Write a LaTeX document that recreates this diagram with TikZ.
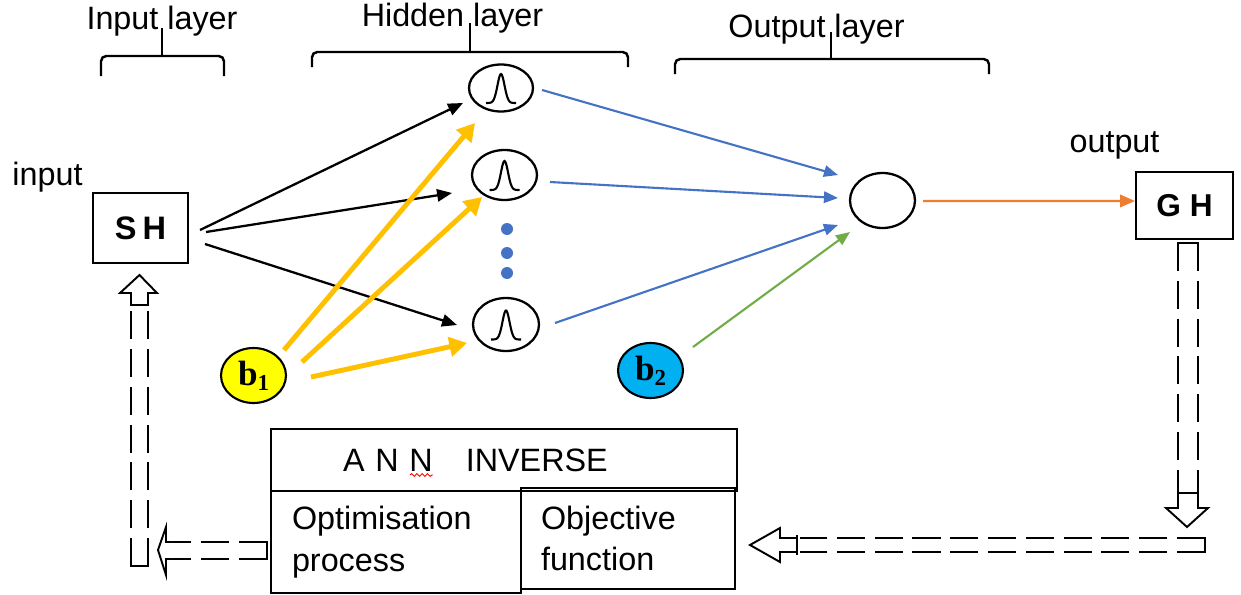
\documentclass[tikz,border=0pt]{standalone}
\usepackage{fontspec}
\setmainfont{Liberation Sans}
\newfontfamily\serifb{Liberation Serif}
\usetikzlibrary{arrows.meta,calc,decorations.pathmorphing,shapes.geometric}
\definecolor{amber}{RGB}{255,192,0}
\definecolor{nblue}{RGB}{68,114,196}
\definecolor{ngreen}{RGB}{112,173,71}
\definecolor{norange}{RGB}{237,125,49}
\definecolor{byellow}{RGB}{255,255,0}
\definecolor{bcyan}{RGB}{0,176,240}
\newcommand\bellcurve[1]{%
  \begin{scope}[shift={(#1)}]
    \draw[line width=1.2pt] plot[smooth,domain=-15:15,samples=41] (\x,{15-29*exp(-(\x/5)^2)});
  \end{scope}}
\begin{document}
\begin{tikzpicture}[x=0.02cm,y=-0.02cm,
  lbl/.style={font=\fontsize{18.4}{22}\selectfont, inner sep=0pt},
  box/.style={draw, rectangle, line width=0.9pt, inner sep=0pt},
  neuron/.style={draw, ellipse, line width=1.3pt, inner sep=0pt},
  bias/.style={draw, ellipse, line width=1.2pt, inner sep=0pt, minimum width=1.3cm, minimum height=1.1cm,
     font=\serifb\fontsize{20}{22}\selectfont\bfseries},
  dotn/.style={circle, fill=nblue, inner sep=0pt, minimum size=0.24cm},
  blk/.style={line width=1.3pt, -{Triangle[length=8.5pt,width=7pt]}},
  ylw/.style={amber, line width=2.8pt, -{Triangle[length=10pt,width=11pt]}},
  blu/.style={nblue, line width=1.2pt, -{Triangle[length=8pt,width=6.5pt]}},
  grn/.style={ngreen, line width=1.2pt, -{Triangle[length=8pt,width=6.5pt]}},
  org/.style={norange, line width=1.4pt, -{Triangle[length=8.5pt,width=7pt]}},
  brace/.style={line width=1.4pt, rounded corners=3pt},
  dsh/.style={line width=1.4pt, dash pattern=on 16pt off 5.5pt},
  capline/.style={line width=1.4pt},
  head/.style={line width=1.1pt, fill=white, line join=miter}]
\path[fill=white] (0,0) rectangle (1241,595);
\useasboundingbox (0,0) rectangle (1241,595);

% layer labels and braces
\node[lbl, anchor=base] (tin) at (162,30) {Input layer};
\node[lbl, anchor=base] (thid) at (452.5,27) {Hidden layer};
\node[lbl, anchor=base] (tout) at (816.5,37) {Output layer};
\draw[brace] (101,76) -- (101,56) -- (224,56) -- (224,76);
\draw[brace] (162,56) -- (162,28);
\draw[brace] (312,67) -- (312,52) -- (628,52) -- (628,67);
\draw[brace] (470,52) -- (470,23);
\draw[brace] (675,74) -- (675,59) -- (989,59) -- (989,74);
\draw[brace] (831,59) -- (831,32);

\node[lbl, anchor=base] (tinput) at (47.5,185) {input};
\node[lbl, anchor=base] (toutput) at (1114.5,152) {output};

% nodes
\node[box, minimum width=1.9cm, minimum height=1.4cm, font=\fontsize{18.5}{20}\selectfont\bfseries] (sh) at (140.5,228) {S\hspace{0.12cm}H};
\node[box, minimum width=1.94cm, minimum height=1.34cm, font=\fontsize{18}{20}\selectfont\bfseries] (gh) at (1184.5,205.5) {G H};
\node[neuron, minimum width=1.28cm, minimum height=0.94cm] (h1) at (501,88) {};
\node[neuron, minimum width=1.3cm, minimum height=1.0cm] (h2) at (504.5,175) {};
\node[neuron, minimum width=1.32cm, minimum height=1.06cm] (h4) at (506,324.5) {};
\bellcurve{h1}
\bellcurve{h2}
\bellcurve{h4}
\node[dotn] (d1) at (507,229) {};
\node[dotn] (d2) at (507,253) {};
\node[dotn] (d3) at (507,273) {};
\node[neuron, minimum width=1.3cm, minimum height=1.1cm] (out) at (882.5,200.5) {};
\node[bias, fill=byellow] (b1) at (253.5,375.5) {b\raisebox{-0.3ex}{\fontsize{13}{13}\selectfont 1}};
\node[bias, fill=bcyan] (b2) at (650.5,370.5) {b\raisebox{-0.3ex}{\fontsize{13}{13}\selectfont 2}};

% black input connections
\draw[blk] ($(sh)+(59.5,2)$) -- ($(h1)+(-38,15)$);
\draw[blk] ($(sh)+(65.5,4)$) -- ($(h2)+(-52.5,18)$);
\draw[blk] ($(sh)+(64.5,16)$) -- ($(h4)+(-49,0.5)$);
% bias 1
\draw[ylw] ($(b1)+(30.5,-25.5)$) -- ($(h1)+(-26,35)$);
\draw[ylw] ($(b1)+(48.5,-13.5)$) -- ($(h2)+(-22.5,22)$);
\draw[ylw] ($(b1)+(57.5,1.5)$) -- ($(h4)+(-39,18.5)$);
% hidden to output
\draw[blu] ($(h1)+(41,2)$) -- ($(out)+(-44.5,-25.5)$);
\draw[blu] ($(h2)+(45.5,7)$) -- ($(out)+(-44.5,-2.5)$);
\draw[blu] ($(h4)+(49,-1.5)$) -- ($(out)+(-44.5,24.5)$);
\draw[grn] ($(b2)+(42.5,-23.5)$) -- ($(out)+(-32.5,31.5)$);
\draw[org] ($(out)+(40.5,0.5)$) -- ($(gh)+(-49.5,-4.5)$);

% ANN inverse boxes
\node[box, minimum width=9.32cm, minimum height=1.24cm, text width=6.44cm, align=left, inner xsep=1.44cm,
  font=\fontsize{18.4}{22}\selectfont] (ann) at (504,460) {A N N\hspace{0.66cm}INVERSE};
\draw[red, line width=0.5pt, decorate, decoration={snake, amplitude=0.8pt, segment length=3pt}] (410,475) -- (433,475);
\node[box, minimum width=5.0cm, minimum height=2.04cm, text width=4.16cm, align=left, inner xsep=0.42cm,
  font=\fontsize{18.4}{23.8}\selectfont] (opt) at (396,542) {Optimisation\\process};
\node[box, minimum width=4.28cm, minimum height=2.02cm, text width=3.48cm, align=left, inner xsep=0.4cm,
  font=\fontsize{18.4}{23.8}\selectfont] (obj) at (628,538.5) {Objective\\function};

% right feedback block arrow (GH down, then left to objective function)
\draw[capline] (1178,252) -- (1178,243) -- (1198,243) -- (1198,252);
\draw[dsh] (1178,243) -- (1178,493);
\draw[dsh] (1198,243) -- (1198,493);
\draw[head] (1178,493) -- (1178,508) -- (1166,508) -- (1187,527) -- (1208,508) -- (1198,508) -- (1198,493) -- cycle;
\draw[capline] (1190,538) -- (1205,538) -- (1205,552) -- (1190,552);
\draw[dsh] (1205,538) -- (800,538);
\draw[dsh] (1205,552) -- (800,552);
\draw[head] (797,538) -- (780,538) -- (780,528) -- (750,545) -- (780,562) -- (780,552) -- (797,552);
\draw[capline] (797,535) -- (797,555);

% left feedback block arrow (optimisation to SH)
\draw[capline] (258,542) -- (267,542) -- (267,559) -- (258,559);
\draw[dsh] (267,542) -- (172,542);
\draw[dsh] (267,559) -- (172,559);
\draw[head] (172,542) -- (166,542) -- (166,527) -- (158,550) -- (166,575) -- (166,559) -- (172,559);
\draw[capline] (131,556) -- (131,566) -- (148,566) -- (148,556);
\draw[dsh] (131,566) -- (131,305);
\draw[dsh] (148,566) -- (148,305);
\draw[head] (131,305) -- (131,293) -- (120,293) -- (139.5,275) -- (157,293) -- (148,293) -- (148,305) -- cycle;
\end{tikzpicture}
\end{document}
